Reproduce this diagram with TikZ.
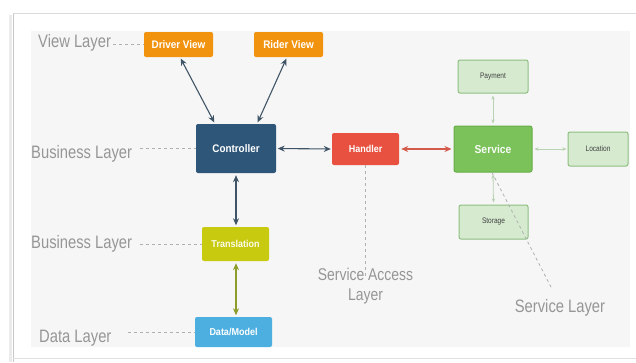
\documentclass[tikz,border=0pt]{standalone}
\usepackage{fontspec}
\setmainfont{Liberation Sans}
\newfontfamily\labfont[FakeStretch=0.82]{Liberation Sans}
\newfontfamily\boxfont[FakeStretch=0.9]{Liberation Sans}
\usetikzlibrary{arrows.meta,calc}
\definecolor{panelC}{HTML}{F6F6F6}
\definecolor{orangeC}{HTML}{F2930F}
\definecolor{ctrlC}{HTML}{2E5679}
\definecolor{handC}{HTML}{E8513F}
\definecolor{servC}{HTML}{7CC25A}
\definecolor{servB}{HTML}{68AE48}
\definecolor{lightG}{HTML}{D6EAD0}
\definecolor{lightB}{HTML}{8EBF80}
\definecolor{transC}{HTML}{C8CA10}
\definecolor{dataC}{HTML}{4DAFE0}
\definecolor{arrDark}{HTML}{3F5567}
\definecolor{arrRed}{HTML}{D45A4C}
\definecolor{arrOlive}{HTML}{8E9C2A}
\definecolor{arrLight}{HTML}{B9D2B2}
\definecolor{dashC}{HTML}{B0B0B0}
\definecolor{labC}{HTML}{969696}
\begin{document}
\begin{tikzpicture}[x=1pt,y=-1pt,
  box/.style={rectangle, rounded corners=2pt, inner sep=0pt, text=white,
    font=\boxfont\bfseries\fontsize{11}{12}\selectfont},
  smallbox/.style={rectangle, rounded corners=2pt, inner sep=0pt, fill=lightG,
    draw=lightB, line width=1pt, text=black!75, font=\labfont\fontsize{8}{9}\selectfont},
  lab/.style={inner sep=0pt, text=labC, font=\labfont\fontsize{18}{20}\selectfont},
  arr/.style={{Stealth[length=7pt,width=6pt]}-{Stealth[length=7pt,width=6pt]}, line width=1.1pt},
  thinarr/.style={{Stealth[length=4pt,width=3.5pt]}-{Stealth[length=4pt,width=3.5pt]}, line width=0.8pt, arrLight},
  leader/.style={dashC, line width=0.8pt, dash pattern=on 3pt off 3pt}
]
\useasboundingbox (0,0) rectangle (636,362);
\fill[white] (0,0) rectangle (636,362);
% screenshot frame
\draw[black!8, line width=3pt] (10.5,15) -- (10.5,362);
\draw[black!22, line width=1pt] (13,13) -- (13,362);
\draw[black!14, line width=0.8pt] (13,13) -- (636,13);
\draw[black!12, line width=0.8pt] (13,358) -- (636,358);
\fill[panelC] (31,31) rectangle (630,347);

% nodes
\node[box, fill=orangeC, minimum width=69, minimum height=25] (dv) at (178.5,44.5) {Driver View};
\node[box, fill=orangeC, minimum width=69, minimum height=25] (rv) at (288.5,44.5) {Rider View};
\node[box, fill=ctrlC, minimum width=80, minimum height=49] (ctrl) at (236,148.5) {Controller};
\node[box, fill=handC, minimum width=67, minimum height=32, font=\boxfont\bfseries\fontsize{10}{11}\selectfont] (hand) at (365.5,149) {Handler};
\node[box, fill=servC, draw=servB, line width=1pt, minimum width=78, minimum height=46, text=white!94!servC, font=\boxfont\bfseries\fontsize{11.5}{12}\selectfont] (serv) at (493,149) {Service};
\node[smallbox, minimum width=70, minimum height=33] (pay) at (493,76.5) {Payment};
\node[smallbox, minimum width=69, minimum height=34] (stor) at (493.5,222) {Storage};
\node[smallbox, minimum width=60, minimum height=34] (loc) at (598,149) {Location};
\node[box, fill=transC, minimum width=67, minimum height=34, text=white!92!transC, font=\boxfont\bfseries\fontsize{10}{11}\selectfont] (trans) at (235.5,244) {Translation};
\node[box, fill=dataC, minimum width=77, minimum height=30, font=\boxfont\bfseries\fontsize{10}{11}\selectfont] (dm) at (233.5,332) {Data/Model};

% layer labels
\node[lab, anchor=base west] (lview) at (38,47) {View Layer};
\node[lab, anchor=base west] (lbus1) at (31,158) {Business Layer};
\node[lab, anchor=base west] (lbus2) at (31,248) {Business Layer};
\node[lab, anchor=base west] (ldata) at (39,342) {Data Layer};
\node[lab, anchor=north, align=center, font=\labfont\fontsize{17}{20}\selectfont] (lsal) at (365.5,268) {Service Access\\Layer};
\node[lab, anchor=base] (lsl) at (560,312) {Service Layer};
\coordinate (salend) at (365.5,279);
\coordinate (slend) at (552,289);

% leaders
\draw[leader, shorten <=2pt] (lview.east |- dv.west) -- (dv.west);
\draw[leader, shorten <=8pt] (lbus1.east |- ctrl.west) -- (ctrl.west);
\draw[leader, shorten <=8pt] (lbus2.east |- trans.west) -- (trans.west);
\draw[leader, shorten <=16pt] (ldata.east |- dm.west) -- (dm.west);
\draw[leader] (hand.south) -- (salend);
\draw[leader] ([xshift=-1pt]serv.south) -- (slend);

% arrows
\draw[arr, arrDark, shorten <=1.5pt, shorten >=1.5pt] ([xshift=1.5pt]dv.south) -- ([xshift=-21pt]ctrl.north);
\draw[arr, arrDark, shorten <=1.5pt, shorten >=1.5pt] ([xshift=-1.5pt]rv.south) -- ([xshift=21pt]ctrl.north);
\draw[arr, arrDark, shorten <=1.5pt, shorten >=1pt] (ctrl.east) -- (hand.west);
\draw[arr, arrRed, shorten <=2pt, shorten >=2pt] (hand.east) -- (serv.west);
\draw[thinarr, shorten <=2pt, shorten >=1pt] (serv.east) -- (loc.west);
\draw[thinarr, shorten <=2pt, shorten >=2pt] (pay.south) -- (serv.north);
\draw[thinarr, shorten <=2pt, shorten >=2pt] (serv.south) -- (stor.north);
\draw[arr, arrDark, shorten <=2pt, shorten >=1.5pt] (ctrl.south) -- ([xshift=0.5pt]trans.north);
\draw[arr, arrOlive, shorten <=2pt, shorten >=1.5pt] ([xshift=0.5pt]trans.south) -- ([xshift=2.5pt]dm.north);
\end{tikzpicture}
\end{document}
